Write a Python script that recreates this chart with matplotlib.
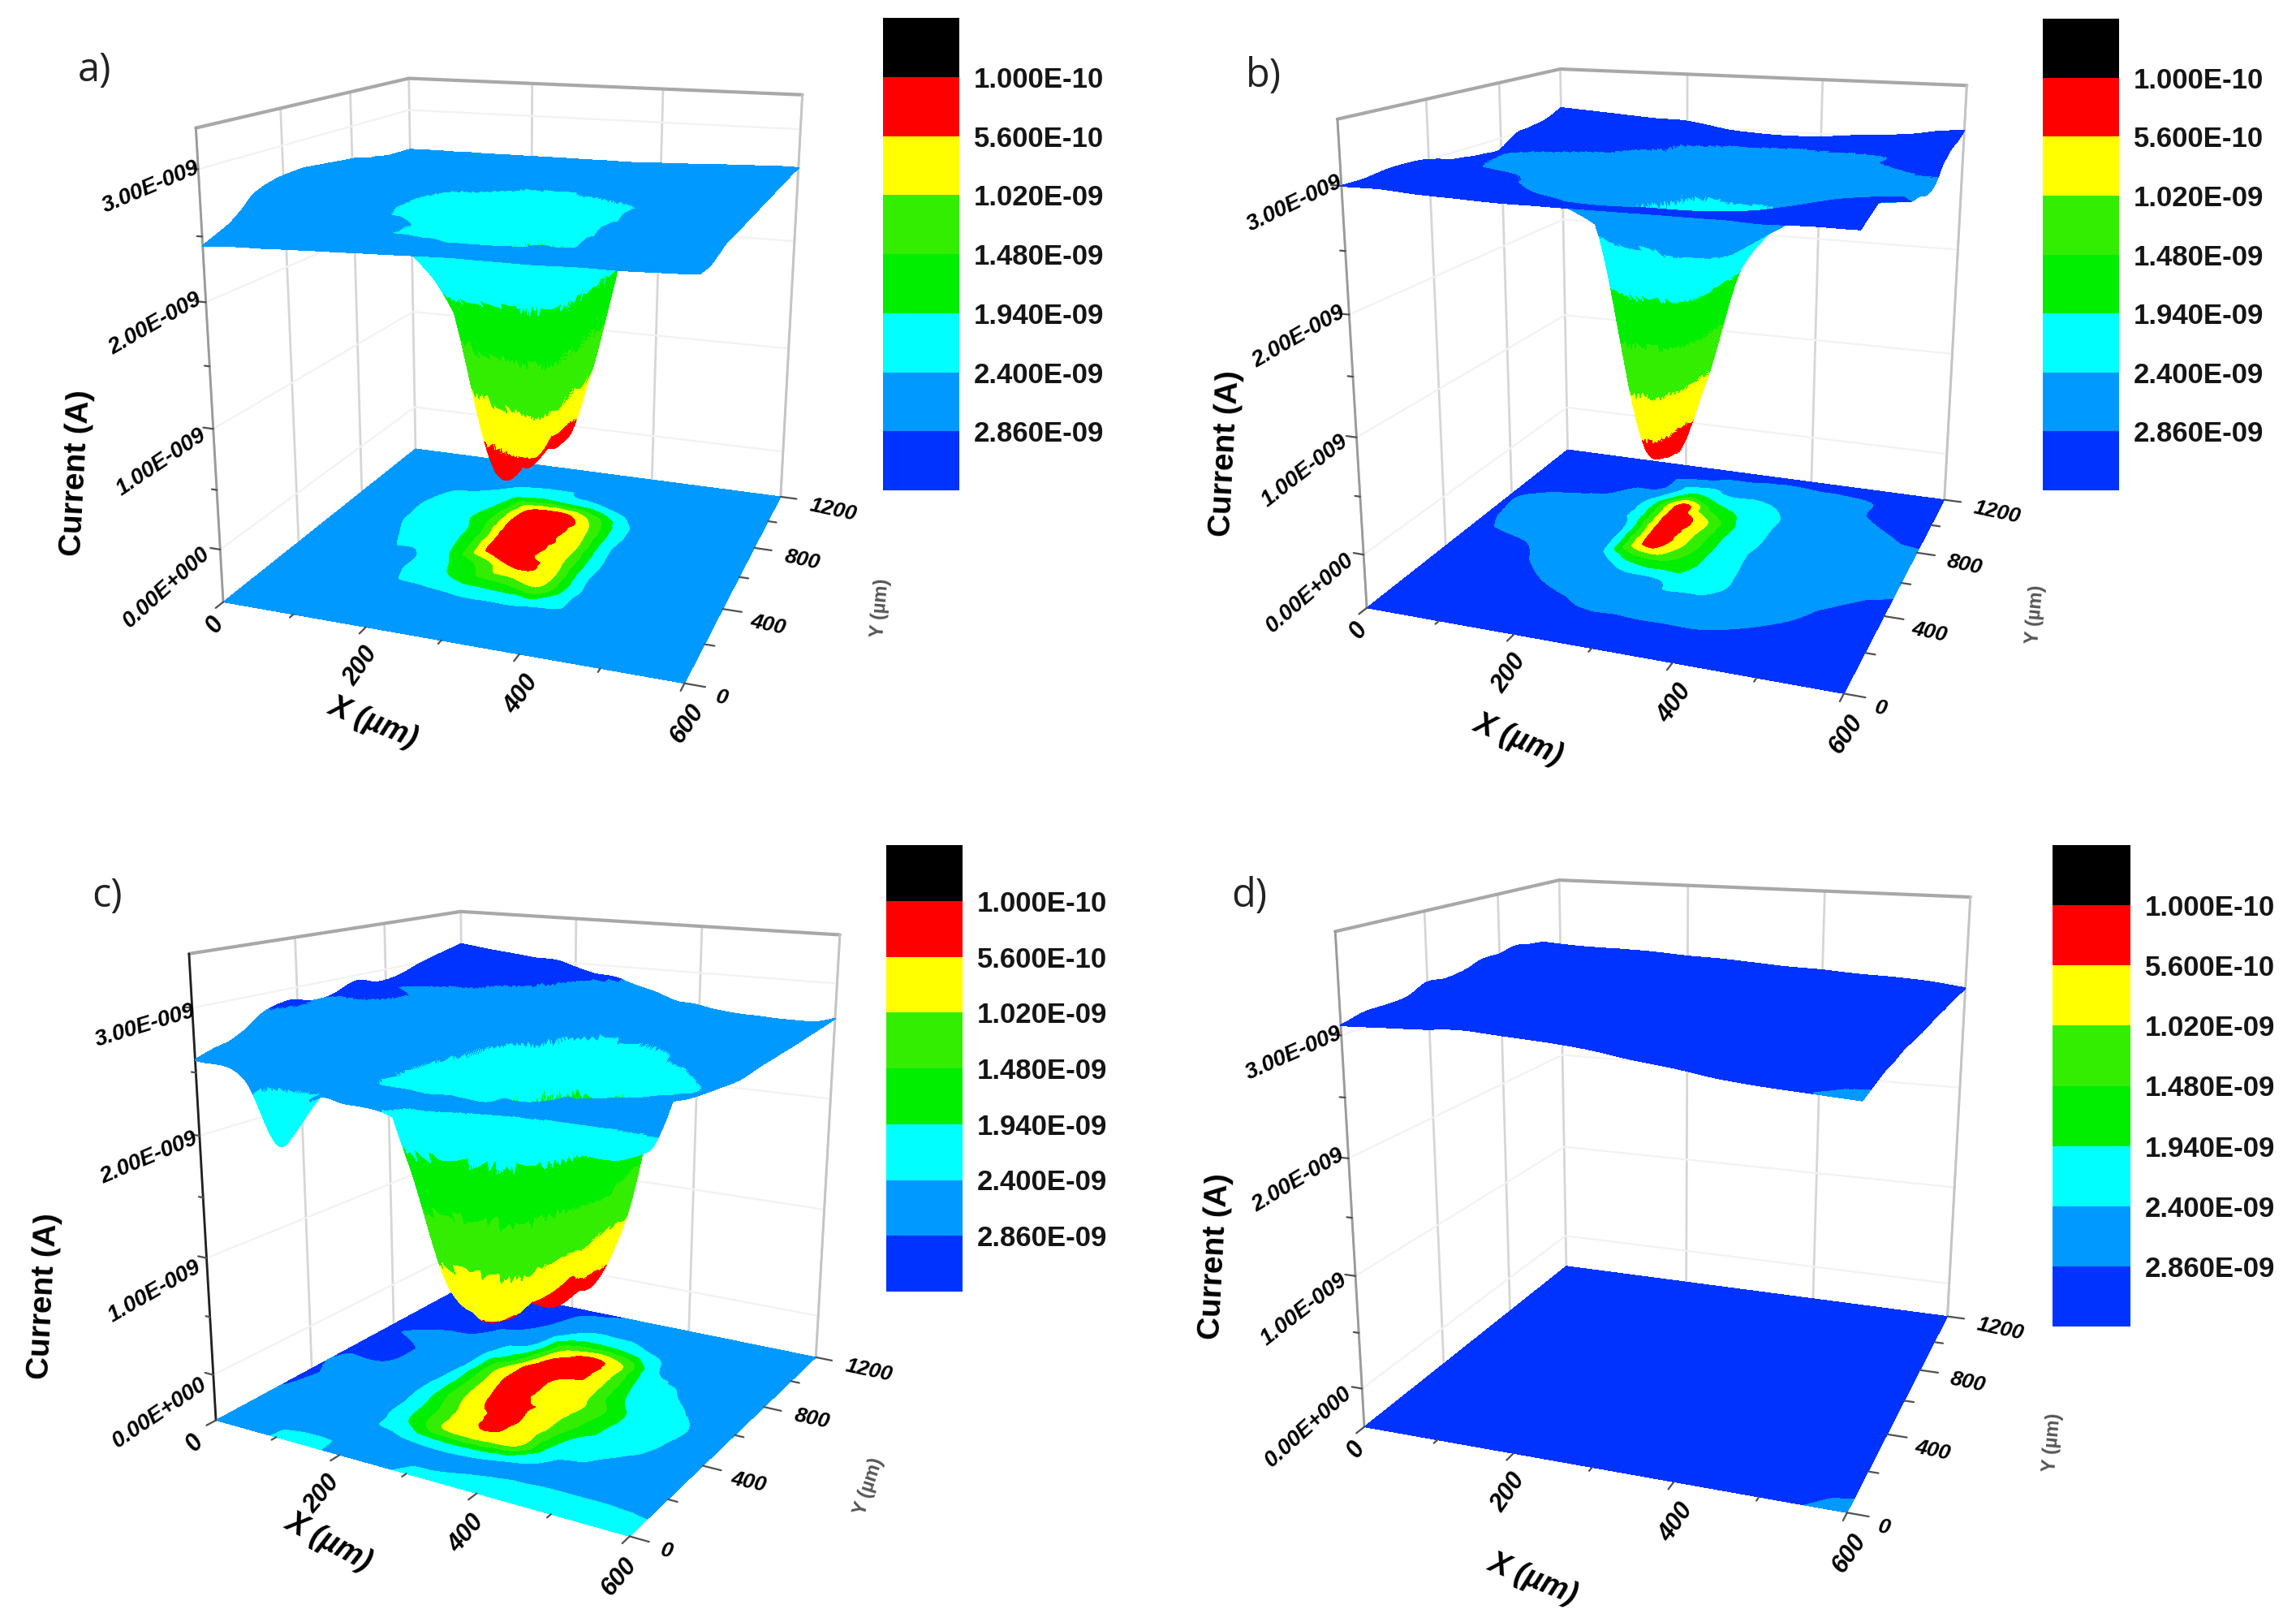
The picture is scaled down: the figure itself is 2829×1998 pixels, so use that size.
import numpy as np, matplotlib
matplotlib.use('Agg')
import matplotlib.pyplot as plt
import matplotlib.tri as mtri
from matplotlib.colors import ListedColormap, BoundaryNorm
from mpl_toolkits.mplot3d import proj3d

plt.rcParams['font.family'] = ['Liberation Sans', 'DejaVu Sans']
W, H = 2829, 1998

# ---- data (current in units of 1e-9 A) ----
X_A = [0, 64, 114, 164, 214, 264, 314, 364, 414, 464, 514, 564, 600]
Y_A = [0, 100, 190, 242, 342, 442, 542, 642, 742, 842, 942, 1050, 1200]
X_B = [0, 50, 100, 150, 200, 250, 300, 350, 400, 450, 500, 550, 600]
Y_B = [0, 100, 200, 300, 400, 500, 600, 700, 800, 900, 1000, 1100, 1200]
X_C = [0, 77, 127, 177, 227, 277, 327, 377, 427, 477, 527, 577, 600]
Y_C = [0, 70, 130, 170, 263, 363, 463, 563, 663, 763, 863, 990, 1200]
X_D = [0, 50, 100, 150, 200, 250, 300, 350, 400, 450, 500, 550, 600]
Y_D = [0, 100, 200, 300, 400, 500, 600, 700, 800, 900, 1000, 1100, 1200]
Z_A = [
 [2.43,2.45,2.46,2.47,2.48,2.49,2.50,2.50,2.50,2.51,2.51,2.52,2.53],
 [2.50,2.48,2.47,2.47,2.48,2.48,2.49,2.50,2.50,2.51,2.52,2.50,2.52],
 [2.60,2.52,2.48,2.48,2.47,2.46,2.46,2.47,2.49,2.51,2.52,2.54,2.55],
 [2.68,2.58,2.50,2.47,2.45,2.39,2.36,2.38,2.42,2.47,2.52,2.55,2.57],
 [2.74,2.62,2.50,2.43,2.12,1.70,1.50,1.15,2.38,2.48,2.53,2.56,2.58],
 [2.76,2.62,2.46,2.43,1.98,1.30,0.55,0.85,2.36,2.49,2.54,2.57,2.59],
 [2.76,2.60,2.42,2.22,1.80,0.30,0.50,0.92,2.32,2.50,2.55,2.58,2.60],
 [2.74,2.54,2.36,2.18,1.75,0.25,0.45,0.85,2.35,2.50,2.56,2.59,2.61],
 [2.72,2.50,2.36,2.16,1.60,0.20,0.35,0.95,2.30,2.48,2.56,2.60,2.62],
 [2.70,2.50,2.39,2.20,1.85,0.50,0.40,1.30,2.40,2.50,2.57,2.61,2.63],
 [2.66,2.54,2.46,2.42,2.20,1.96,2.16,2.41,2.48,2.53,2.58,2.62,2.64],
 [2.63,2.58,2.54,2.52,2.50,2.48,2.48,2.50,2.53,2.56,2.60,2.63,2.65],
 [2.62,2.62,2.62,2.62,2.62,2.62,2.62,2.62,2.63,2.64,2.65,2.66,2.66],
]
Z_B = [
 [3.00,3.00,2.98,2.97,2.96,2.96,2.96,2.96,2.96,2.96,2.95,2.96,2.96],
 [3.00,2.99,2.98,2.96,2.95,2.93,2.92,2.93,2.93,2.94,2.96,3.00,3.02],
 [3.02,3.00,2.97,2.94,2.90,2.84,2.83,2.82,2.82,2.88,2.95,3.02,3.06],
 [3.02,3.00,2.95,2.88,2.80,2.72,2.60,2.60,2.60,2.72,2.86,2.95,3.00],
 [3.00,2.96,2.90,2.80,2.65,2.50,2.42,2.20,2.42,2.62,2.80,2.88,2.95],
 [2.95,2.90,2.85,2.75,2.55,1.70,1.60,2.05,2.42,2.62,2.78,2.82,2.86],
 [2.92,2.80,2.72,2.62,2.42,0.45,1.05,2.05,2.45,2.70,2.76,2.80,2.84],
 [2.90,2.75,2.68,2.60,2.38,0.30,0.95,2.05,2.42,2.68,2.75,2.80,2.80],
 [2.90,2.75,2.68,2.55,2.20,0.25,0.90,2.00,2.42,2.70,2.76,2.80,2.83],
 [3.00,2.95,2.89,2.78,2.30,0.45,1.70,2.10,2.42,2.72,2.80,2.86,2.95],
 [3.02,3.00,2.98,2.92,2.85,2.00,2.35,2.38,2.55,2.78,2.84,2.98,3.02],
 [3.05,3.03,3.00,2.97,2.92,2.82,2.76,2.74,2.76,2.80,2.85,3.00,3.05],
 [3.12,3.10,3.08,3.06,3.05,3.00,2.97,2.96,2.97,3.00,3.02,3.06,3.10],
]
Z_C = [
 [2.60,2.50,2.02,2.42,2.42,2.40,2.30,2.25,2.25,2.25,2.30,2.30,2.35],
 [2.65,2.55,2.43,2.45,2.45,2.44,2.43,2.38,2.34,2.32,2.30,2.32,2.36],
 [2.68,2.58,2.52,2.50,2.48,2.46,2.46,2.45,2.44,2.44,2.45,2.48,2.50],
 [2.72,2.60,2.55,2.43,2.38,2.20,2.20,2.38,2.47,2.52,2.55,2.60,2.62],
 [2.85,2.60,2.52,2.42,1.70,0.85,0.75,1.00,2.25,2.42,2.50,2.55,2.60],
 [2.90,2.65,2.50,2.38,1.50,0.70,0.50,0.90,1.95,2.30,2.42,2.50,2.58],
 [2.86,2.70,2.50,2.32,1.20,0.50,0.52,0.90,1.60,2.25,2.38,2.50,2.55],
 [2.88,2.86,2.55,2.35,1.10,0.35,0.62,0.80,1.50,2.22,2.36,2.48,2.55],
 [2.95,2.88,2.60,2.42,1.00,0.30,0.65,0.90,1.90,2.28,2.42,2.52,2.58],
 [2.90,2.75,2.62,2.45,1.70,0.30,0.35,0.95,2.10,2.38,2.50,2.56,2.60],
 [2.92,2.90,2.86,2.60,2.30,0.85,0.45,1.05,2.35,2.48,2.52,2.58,2.62],
 [3.00,3.00,2.98,2.92,2.60,2.10,2.10,2.35,2.48,2.52,2.56,2.60,2.65],
 [3.10,3.05,3.02,3.00,2.92,2.88,2.80,2.72,2.68,2.66,2.65,2.66,2.70],
]
Z_D = [
 [3.08,3.09,3.10,3.12,3.10,3.08,3.05,3.00,2.96,2.91,2.88,2.86,2.84],
 [3.12,3.10,3.10,3.11,3.09,3.07,3.05,3.01,2.97,2.93,2.90,2.88,2.87],
 [3.12,3.10,3.09,3.09,3.08,3.06,3.04,3.01,2.98,2.95,2.93,2.91,2.90],
 [3.13,3.10,3.08,3.07,3.06,3.04,3.03,3.01,2.99,2.97,2.95,2.93,2.91],
 [3.20,3.14,3.10,3.07,3.06,3.04,3.03,3.01,2.99,2.97,2.95,2.94,2.93],
 [3.18,3.14,3.10,3.08,3.06,3.05,3.03,3.02,3.00,2.98,2.96,2.95,2.93],
 [3.20,3.16,3.11,3.08,3.07,3.05,3.04,3.02,3.01,2.99,2.97,2.96,2.93],
 [3.25,3.20,3.15,3.11,3.08,3.06,3.05,3.03,3.02,3.00,2.99,2.97,2.94],
 [3.25,3.21,3.16,3.12,3.09,3.07,3.05,3.04,3.03,3.01,3.00,2.98,2.95],
 [3.28,3.23,3.18,3.14,3.11,3.08,3.06,3.05,3.04,3.02,3.01,2.99,2.95],
 [3.25,3.22,3.18,3.14,3.11,3.09,3.07,3.05,3.04,3.03,3.02,3.00,2.96],
 [3.22,3.20,3.17,3.14,3.11,3.09,3.07,3.06,3.05,3.03,3.02,3.00,2.96],
 [3.12,3.13,3.14,3.13,3.11,3.10,3.08,3.06,3.05,3.03,3.02,3.00,2.96],
]
LEVELS = [0.10, 0.56, 1.02, 1.48, 1.94, 2.40, 2.86]
LEVEL_LABELS = ['1.000E-10', '5.600E-10', '1.020E-09', '1.480E-09', '1.940E-09', '2.400E-09', '2.860E-09']
BAND_COLORS = ['#000000', '#ff0000', '#ffff00', '#33ee00', '#00ee00', '#00ffff', '#0099ff', '#0033ff']
X_MAJOR = [0, 200, 400, 600]; X_MINOR = [100, 300, 500]
Y_MAJOR = [0, 400, 800, 1200]; Y_MINOR = [200, 600, 1000]
Z_MAJOR = [0, 1, 2, 3]; Z_MINOR = [0.5, 1.5, 2.5]
Z_LABELS = ['0.00E+000', '1.00E-009', '2.00E-009', '3.00E-009']

# ---- layout per panel ----
PANELS = {
 'a': dict(x=X_A, y=Y_A, z=Z_A, view=(15.782,-70.249,-0.204,0.3589), asp=(1,0.9991,1.0016), rect=(0.05983,0.55265,0.32998,0.46722),
           zlim=(-0.45,3.3), zrot=(42,34,30,23), xrot=55, xdx=0, xlab=(460,890,-22), ylab=(1085,749,85), clab=(94,583),
           tag=(117,87), bar=(1088,1182,22,604)),
 'b': dict(x=X_B, y=Y_B, z=Z_B, view=(15.776,-69.932,-0.143,0.3526), asp=(1,0.9955,0.9972), rect=(0.55709,0.54605,0.34072,0.48243),
           zlim=(-0.47,3.5), zrot=(41,38,30,26), xrot=55, xdx=0, xlab=(1871,911,-22), ylab=(2508,757,85), clab=(1510,559),
           tag=(1557,94), bar=(2517,2611,23,604)),
 'c': dict(x=X_C, y=Y_C, z=Z_C, view=(15.454,-59.969,-0.161,0.3632), asp=(1,1.0009,1.0081), rect=(0.05985,0.03268,0.33455,0.47369),
           zlim=(-0.40,3.41), zrot=(34,30,23,17), xrot=50, xdx=-16, xlab=(405,1899,-28), ylab=(1070,1831,72), clab=(54,1597),
           tag=(132,1104), bar=(1092,1186,1041,1591)),
 'd': dict(x=X_D, y=Y_D, z=Z_D, view=(15.8,-70.2,-0.2,0.355), asp=(1,1,1), rect=(0.5553,0.04054,0.3450,0.4885),
           zlim=(-0.35,3.81), zrot=(42,38,31,24), xrot=55, xdx=0, xlab=(1889,1945,-22), ylab=(2529,1777,85), clab=(1497,1548),
           tag=(1539,1104), bar=(2529,2625,1041,1634)),
}
cmap = ListedColormap(BAND_COLORS[1:-1])
cmap.set_under(BAND_COLORS[0]); cmap.set_over(BAND_COLORS[-1])
norm = BoundaryNorm(LEVELS, len(LEVELS) - 1)
contour_levels = [-5] + LEVELS + [50]

fig = plt.figure(figsize=(W / 100, H / 100), dpi=100, facecolor='white')

for name, p in PANELS.items():
    ax = fig.add_axes(p['rect'], projection='3d', computed_zorder=False)
    ax.set_axis_off()
    ax.patch.set_alpha(0)
    ax.set_xlim(0, 600); ax.set_ylim(0, 1200); ax.set_zlim(*p['zlim'])
    el, az, ro, fl = p['view']
    ax.view_init(el, az, ro)
    ax.set_proj_type('persp', focal_length=fl)
    ax.set_box_aspect(p['asp'])
    z0, z1 = p['zlim']
    M = ax.get_proj()

    def line(xs, ys, zs, c, lw, zo=1):
        ax.plot(xs, ys, zs, color=c, lw=lw, zorder=zo, solid_capstyle='round')

    # walls
    for x in X_MAJOR:
        line([x, x], [1200, 1200], [z0, z1], '#d6d6d6', 2.0)
    for y in Y_MAJOR[:-1]:
        line([0, 0], [y, y], [z0, z1], '#d6d6d6', 2.0)
    for z in Z_MAJOR:
        line([0, 0], [0, 1200], [z, z], '#f2f2f2', 1.6)
        line([0, 600], [1200, 1200], [z, z], '#f2f2f2', 1.6)
    line([0, 0, 600], [0, 1200, 1200], [z1, z1, z1], '#a8a8a8', 3.0)
    line([0, 0], [0, 0], [z0, z1], '#9a9a9a' if name != 'c' else '#202020', 2.0)
    line([600, 600], [1200, 1200], [z0, z1], '#c4c4c4', 2.0)

    # surface and its projected map
    xg, yg = np.meshgrid(p['x'], p['y'])
    base_tri = mtri.Triangulation(xg.ravel().astype(float), yg.ravel().astype(float))
    refiner = mtri.UniformTriRefiner(base_tri)
    zdata = np.array(p['z'], float).ravel()
    interp = mtri.CubicTriInterpolator(base_tri, zdata, kind='geom')
    tri_f, z_f = refiner.refine_field(zdata, triinterpolator=interp, subdiv=4)
    cs = ax.tricontourf(tri_f, z_f, levels=contour_levels, colors=BAND_COLORS,
                        zdir='z', offset=z0)
    cs.set_zorder(2)
    surf = ax.plot_trisurf(tri_f, z_f, cmap=cmap, norm=norm, shade=False, linewidth=0.6,
                           antialiased=False, zorder=3)
    surf.set_edgecolor('face')

    # ticks and tick labels
    def lab(x, y, z, text, dx, dy, **kw):
        xs, ys, _ = proj3d.proj_transform(x, y, z, M)
        ax.annotate(text, xy=(xs, ys), xytext=(dx, -dy), textcoords='offset pixels',
                    ha='center', va='center', annotation_clip=False, zorder=8, **kw)

    for x in X_MAJOR + X_MINOR:
        ln = 36 if x in X_MAJOR else 18
        line([x, x], [0, -ln], [z0, z0], '#505050', 1.6, 5)
    for y in Y_MAJOR + Y_MINOR:
        ln = 24 if y in Y_MAJOR else 12
        line([600, 600 + ln], [y, y], [z0, z0], '#505050', 1.6, 5)
    for z in Z_MAJOR + Z_MINOR:
        ln = 14 if z in Z_MAJOR else 7
        line([0, -ln], [0, 0], [z, z], '#505050', 1.6, 5)

    for x, dx, dy in zip(X_MAJOR, (-10, -6, 3, 3), (28, 48, 50, 50)):
        lab(x, 0, z0, str(x), dx + p['xdx'], dy, rotation=p['xrot'], fontsize=22, fontweight='bold', fontstyle='italic')
    for y, dx, dy in zip(Y_MAJOR, (46, 56, 59, 65), (18, 20, 15, 16)):
        lab(600, y, z0, str(y), dx, dy, rotation=-12, fontsize=19, fontweight='bold', fontstyle='italic')
    for z, s, r, dx, dy in zip(Z_MAJOR, Z_LABELS, p['zrot'], (-66, -64, -62, -58), (47, 41, 27, 22)):
        lab(0, 0, z, s, dx, dy, rotation=r, fontsize=20, fontweight='bold', fontstyle='italic')

    fig.text(p['xlab'][0] / W, 1 - p['xlab'][1] / H, 'X (µm)', rotation=p['xlab'][2], ha='center', va='center',
             fontsize=27, fontweight='bold', fontstyle='italic')
    fig.text(p['ylab'][0] / W, 1 - p['ylab'][1] / H, 'Y (µm)', rotation=p['ylab'][2], ha='center', va='center',
             fontsize=17, fontweight='bold', color='#555555')
    fig.text(p['clab'][0] / W, 1 - p['clab'][1] / H, 'Current (A)', rotation=87, ha='center', va='center',
             fontsize=28, fontweight='bold')
    fig.text(p['tag'][0] / W, 1 - p['tag'][1] / H, name + ')', ha='center', va='center',
             fontsize=35, family='Open Sans', color='#222222')

    # legend
    x0, x1, y0, y1 = p['bar']
    lg = fig.add_axes([x0 / W, 1 - y1 / H, (x1 - x0) / W, (y1 - y0) / H])
    for i, c in enumerate(BAND_COLORS[::-1]):
        lg.bar(0, 1, bottom=i, width=1, color=c, linewidth=0)
    lg.set_xlim(-0.5, 0.5); lg.set_ylim(0, 8)
    lg.set_xticks([])
    lg.yaxis.tick_right()
    lg.set_yticks(range(1, 8))
    lg.set_yticklabels(LEVEL_LABELS[::-1], fontsize=25, fontweight='bold', color='#151515')
    lg.tick_params(axis='y', length=0, pad=13)
    for s in lg.spines.values():
        s.set_visible(False)

fig.savefig('out.png', dpi=100)
